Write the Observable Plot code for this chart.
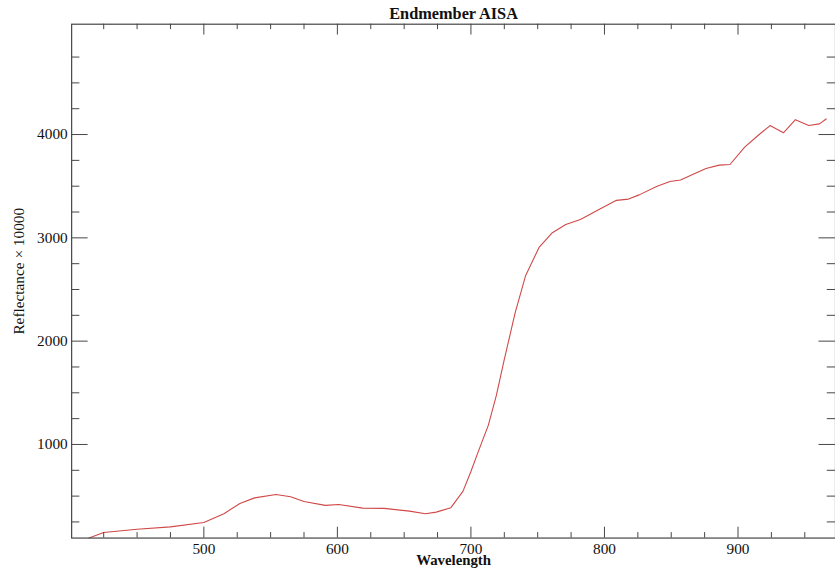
<!DOCTYPE html>
<html><head><meta charset="utf-8">
<script src="https://cdn.jsdelivr.net/npm/d3@7"></script>
<script src="https://cdn.jsdelivr.net/npm/@observablehq/plot@0.6"></script>
<style>body{margin:0;background:#fff;overflow:hidden} #wrap{width:835px;height:578px;overflow:hidden}</style>
</head><body><div id="wrap"></div>
<script>
const wavelength = [414, 425, 450, 475, 500, 515, 527, 538, 554, 565, 575, 591, 601, 619, 635, 654, 666, 674, 685, 694, 700, 705, 713, 719, 725, 733, 741, 751, 761, 771, 782, 798, 809, 818, 826, 839, 849, 857, 866, 876, 886, 894, 905, 915, 924, 934, 943, 953, 961, 966];
const reflectance = [94, 148, 180, 202, 244, 330, 429, 483, 515, 493, 448, 410, 419, 384, 381, 355, 330, 345, 388, 546, 738, 914, 1185, 1472, 1823, 2269, 2636, 2907, 3050, 3130, 3178, 3289, 3363, 3375, 3416, 3497, 3545, 3560, 3614, 3672, 3704, 3710, 3879, 3991, 4087, 4017, 4144, 4087, 4103, 4151];
const xMajorTicks = [500, 600, 700, 800, 900];
const xMinorTicks = [425, 450, 475, 525, 550, 575, 625, 650, 675, 725, 750, 775, 825, 850, 875, 925, 950];
const yMajorTicks = [1000, 2000, 3000, 4000];
const yMinorTicks = [250, 500, 750, 1250, 1500, 1750, 2250, 2500, 2750, 3250, 3500, 3750, 4250, 4500, 4750];
const title = "Endmember AISA";
const xLabel = "Wavelength";
const yLabel = "Reflectance × 10000";

const data = wavelength.map((w, i) => ({w, r: reflectance[i]}));
const W = 845, H = 578, mt = 24, mb = 34, ml = 72, mr = 0;
const ph = H - mt - mb, pw = W - ml - mr;
const axisColor = "#444";
const fmt = d3.format("d");
const plot = Plot.plot({
  width: W, height: H, marginTop: mt, marginBottom: mb, marginLeft: ml, marginRight: mr,
  style: {fontFamily: "'Liberation Serif', 'Times New Roman', serif", fontSize: "15px", color: "#111", background: "#fff"},
  x: {domain: [401, 973]},
  y: {domain: [94, 5068]},
  marks: [
    Plot.line(data, {x: "w", y: "r", stroke: "#d04848", strokeWidth: 1.1}),
    Plot.frame({stroke: axisColor, strokeWidth: 1.2}),
    Plot.ruleX(xMajorTicks, {x: d => d, insetTop: ph - 11, stroke: axisColor}),
    Plot.ruleX(xMinorTicks, {x: d => d, insetTop: ph - 5.5, stroke: axisColor}),
    Plot.ruleX(xMajorTicks, {x: d => d, insetBottom: ph - 11, stroke: axisColor}),
    Plot.ruleX(xMinorTicks, {x: d => d, insetBottom: ph - 5.5, stroke: axisColor}),
    Plot.ruleY(yMajorTicks, {y: d => d, insetRight: pw - 16.7, stroke: axisColor}),
    Plot.ruleY(yMinorTicks, {y: d => d, insetRight: pw - 8.3, stroke: axisColor}),
    Plot.ruleY(yMajorTicks, {y: d => d, insetLeft: pw - 16.7, stroke: axisColor}),
    Plot.ruleY(yMinorTicks, {y: d => d, insetLeft: pw - 8.3, stroke: axisColor}),
    Plot.axisX(xMajorTicks, {tickSize: 0, tickPadding: 5, tickFormat: fmt, label: null, fill: "#111", fontSize: 15.5}),
    Plot.axisY(yMajorTicks, {tickSize: 0, tickPadding: 4, tickFormat: fmt, label: null, fill: "#111", fontSize: 15.5}),
    Plot.text([xLabel], {text: d => d, frameAnchor: "bottom", dy: 17, lineAnchor: "top", fill: "#111", fontSize: 15, fontWeight: "bold"}),
    Plot.text([title], {text: d => d, frameAnchor: "top", dy: -5, lineAnchor: "bottom", fontSize: 16.5, fontWeight: "bold", fill: "#111"}),
    Plot.text([yLabel], {text: d => d, frameAnchor: "left", dx: -53, dy: -10, rotate: -90, textAnchor: "middle", fill: "#111", fontSize: 15.5})
  ]
});
document.getElementById("wrap").appendChild(plot);
</script>
</body></html>
